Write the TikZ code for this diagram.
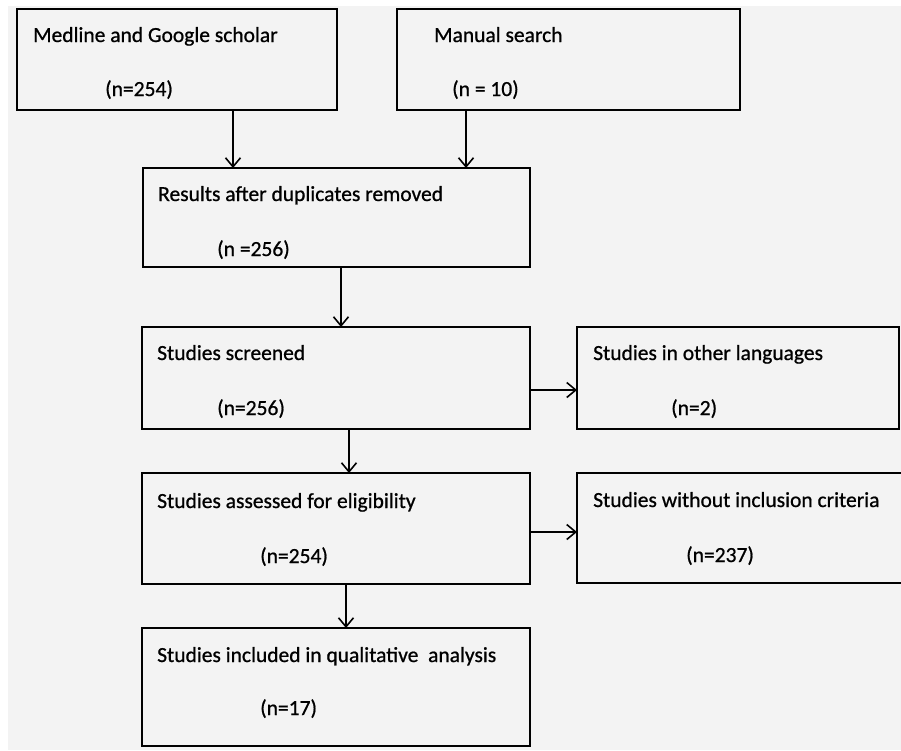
\documentclass[tikz,border=0pt]{standalone}
\usepackage{fontspec}
\setmainfont{Carlito}
\newfontfamily\boxfont{Carlito}[FakeBold=0.8]
\usepackage{xcolor}
\usetikzlibrary{arrows.meta}
\definecolor{bggray}{HTML}{F3F3F3}
\tikzset{ flow_box/.style = {rectangle, draw, line width=2.4pt, fill=bggray, inner sep=0pt} }
\tikzset{ box_text/.style = {anchor=base west, inner sep=0pt, font=\boxfont\fontsize{21.5}{25}\selectfont} }
\tikzset{ flow_arrow/.style = {line width=1.6pt, -{Straight Barb[length=9pt, width=15pt, line width=1.6pt]}} }

\begin{document}
\begin{tikzpicture}[x=1pt, y=-1pt]
        \fill[white] (0,0) rectangle (901,750);
        \fill[bggray] (8,6) rectangle (901,750);
        \useasboundingbox (0,0) rectangle (901,750);
        % boxes
        \node[flow_box, minimum width=320pt, minimum height=101pt] (MG) at (177,59.5) {};
        \node[flow_box, minimum width=343pt, minimum height=101pt] (MS) at (568.5,59.5) {};
        \node[flow_box, minimum width=387pt, minimum height=99pt] (RD) at (336.5,217.5) {};
        \node[flow_box, minimum width=388pt, minimum height=102pt] (SS) at (336,378) {};
        \node[flow_box, minimum width=322pt, minimum height=102pt] (SL) at (738,378) {};
        \node[flow_box, minimum width=388pt, minimum height=111pt] (SE) at (336,528.5) {};
        \node[flow_box, minimum width=328pt, minimum height=110pt] (SW) at (741,528) {};
        \node[flow_box, minimum width=388pt, minimum height=118pt] (SQ) at (336,687) {};
        % texts
        \node[box_text] (MGa) at (33,42) {Medline and Google scholar};
        \node[box_text] (MGn) at (105,96) {(n=254)};
        \node[box_text] (MSa) at (434,42) {Manual search};
        \node[box_text] (MSn) at (452,96) {(n = 10)};
        \node[box_text] (RDa) at (158,201) {Results after duplicates removed};
        \node[box_text] (RDn) at (217,256) {(n =256)};
        \node[box_text] (SSa) at (157,360) {Studies screened};
        \node[box_text] (SSn) at (217,415) {(n=256)};
        \node[box_text] (SLa) at (593,360) {Studies in other languages};
        \node[box_text] (SLn) at (671,415) {(n=2)};
        \node[box_text] (SEa) at (157,508) {Studies assessed for eligibility};
        \node[box_text] (SEn) at (260,563) {(n=254)};
        \node[box_text] (SWa) at (593,507) {Studies without inclusion criteria};
        \node[box_text] (SWn) at (686,562) {(n=237)};
        \node[box_text] (SQa) at (157,662) {Studies included in qualitative \ analysis};
        \node[box_text] (SQn) at (260,715) {(n=17)};
        % arrow ends
        \coordinate (inA) at (233,168);
        \coordinate (inB) at (466,168);
        \coordinate (inC) at (341,327);
        \coordinate (inD) at (349,473);
        \coordinate (inE) at (346,628);
        \coordinate (inF) at (577,390);
        \coordinate (inG) at (577,532);
        \draw[flow_arrow] (inA |- MG.south) -- (inA);
        \draw[flow_arrow] (inB |- MS.south) -- (inB);
        \draw[flow_arrow] (inC |- RD.south) -- (inC);
        \draw[flow_arrow] (inD |- SS.south) -- (inD);
        \draw[flow_arrow] (inE |- SE.south) -- (inE);
        \draw[flow_arrow] (inF -| SS.east) -- (inF);
        \draw[flow_arrow] (inG -| SE.east) -- (inG);
\end{tikzpicture}
\end{document}
